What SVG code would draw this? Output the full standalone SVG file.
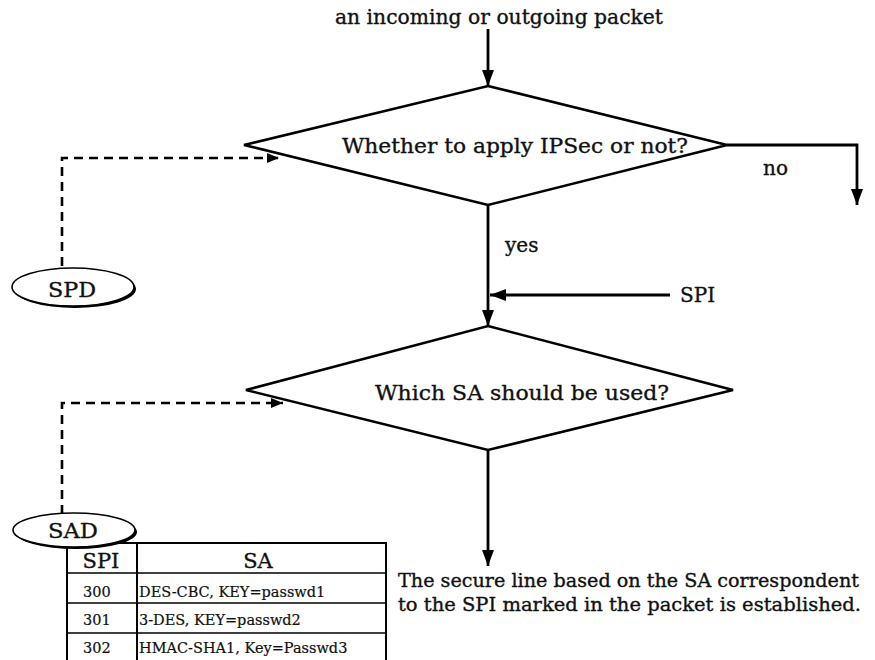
<svg xmlns="http://www.w3.org/2000/svg" width="875" height="660" viewBox="0 0 875 660">
  <style>
    text { stroke: #111; stroke-width: 0.35; }
    .lbl { font-family: "DejaVu Serif", "Liberation Serif", serif; font-size: 20px; fill: #111; }
    .note { font-family: "DejaVu Serif", "Liberation Serif", serif; font-size: 19px; fill: #111; }
    .db { font-family: "DejaVu Serif", "Liberation Serif", serif; font-size: 21px; fill: #111; }
    .cell { font-family: "DejaVu Serif", "Liberation Serif", serif; font-size: 14.5px; fill: #111; stroke-width: 0.2; }
    .hdr { font-family: "DejaVu Serif", "Liberation Serif", serif; font-size: 21px; fill: #111; }
    .shape { fill: #fff; stroke: #000; stroke-width: 2.6; stroke-linejoin: miter; }
    .flow { fill: none; stroke: #000; stroke-width: 2.8; }
    .dash { fill: none; stroke: #000; stroke-width: 2.6; stroke-dasharray: 9 6; }
    .grid { stroke: #000; stroke-width: 1.6; fill: none; }
    .frame { stroke: #000; stroke-width: 2; fill: none; }
  </style>
  <defs>
    <marker id="arrow" viewBox="0 0 12 10" refX="12" refY="5" markerWidth="12" markerHeight="10" markerUnits="userSpaceOnUse" orient="auto">
      <path d="M0,0 L12,5 L0,10 Z" fill="#000"/>
    </marker>
    <marker id="arrowBig" viewBox="0 0 16 12" refX="16" refY="6" markerWidth="16" markerHeight="12" markerUnits="userSpaceOnUse" orient="auto">
      <path d="M0,0 L16,6 L0,12 Z" fill="#000"/>
    </marker>
  </defs>

  <!-- connectors -->
  <g id="connectors">
    <line class="flow" x1="488" y1="29" x2="488" y2="86" marker-end="url(#arrowBig)"/>
    <polyline class="flow" points="727,145 857,145 857,205" marker-end="url(#arrowBig)"/>
    <line class="flow" x1="488" y1="205" x2="488" y2="326" marker-end="url(#arrowBig)"/>
    <line class="flow" x1="670" y1="295" x2="490" y2="295" marker-end="url(#arrowBig)"/>
    <line class="flow" x1="488" y1="450" x2="488" y2="566" marker-end="url(#arrowBig)"/>
    <polyline class="dash" points="62,266 62,158 279,158" marker-end="url(#arrow)"/>
    <polyline class="dash" points="62,514 62,403 283,403" marker-end="url(#arrow)"/>
  </g>

  <!-- entry label -->
  <g id="start">
    <text class="lbl" x="335" y="24" textLength="328" lengthAdjust="spacingAndGlyphs">an incoming or outgoing packet</text>
  </g>

  <!-- decision: apply IPSec -->
  <g id="decision-ipsec">
    <polygon class="shape" points="488,86 727,145 488,205 244,145"/>
    <text class="lbl" x="342" y="153" textLength="346" lengthAdjust="spacingAndGlyphs">Whether to apply IPSec or not?</text>
  </g>

  <g id="label-no"><text class="lbl" x="763" y="175">no</text></g>
  <g id="label-yes"><text class="lbl" x="505" y="252">yes</text></g>
  <g id="label-spi"><text class="lbl" x="680" y="302">SPI</text></g>

  <!-- decision: choose SA -->
  <g id="decision-sa">
    <polygon class="shape" points="488,326 733,390 488,450 246,390"/>
    <text class="lbl" x="375" y="400" textLength="294" lengthAdjust="spacingAndGlyphs">Which SA should be used?</text>
  </g>

  <!-- result -->
  <g id="result">
    <text class="note" x="398" y="587" textLength="461" lengthAdjust="spacingAndGlyphs">The secure line based on the SA correspondent</text>
    <text class="note" x="398" y="611" textLength="463" lengthAdjust="spacingAndGlyphs">to the SPI marked in the packet is established.</text>
  </g>

  <!-- SPD database -->
  <g id="spd">
    <ellipse cx="75" cy="289" rx="61" ry="19" fill="#000"/>
    <ellipse cx="73" cy="287" rx="61" ry="19" fill="#fff" stroke="#000" stroke-width="1.6"/>
    <text class="db" x="72" y="297" text-anchor="middle" textLength="48" lengthAdjust="spacingAndGlyphs">SPD</text>
  </g>

  <!-- SA table -->
  <g id="sa-table">
    <polyline class="frame" points="67,662 67,543 386,543 386,662"/>
    <line class="frame" x1="137" y1="543" x2="137" y2="662"/>
    <line class="grid" x1="67" y1="573" x2="386" y2="573"/>
    <line class="grid" x1="67" y1="603" x2="386" y2="603"/>
    <line class="grid" x1="67" y1="633" x2="386" y2="633"/>
    <text class="hdr" x="101" y="568" text-anchor="middle">SPI</text>
    <text class="hdr" x="258" y="568" text-anchor="middle">SA</text>
    <text class="cell" x="83" y="597">300</text>
    <text class="cell" x="139" y="597">DES-CBC, KEY=passwd1</text>
    <text class="cell" x="83" y="625">301</text>
    <text class="cell" x="139" y="625">3-DES, KEY=passwd2</text>
    <text class="cell" x="83" y="653">302</text>
    <text class="cell" x="139" y="653">HMAC-SHA1, Key=Passwd3</text>
  </g>

  <!-- SAD database -->
  <g id="sad">
    <ellipse cx="76" cy="532" rx="61" ry="17" fill="#000"/>
    <ellipse cx="74" cy="530" rx="61" ry="17" fill="#fff" stroke="#000" stroke-width="1.6"/>
    <text class="db" x="73" y="538" text-anchor="middle" textLength="50" lengthAdjust="spacingAndGlyphs">SAD</text>
  </g>
</svg>
